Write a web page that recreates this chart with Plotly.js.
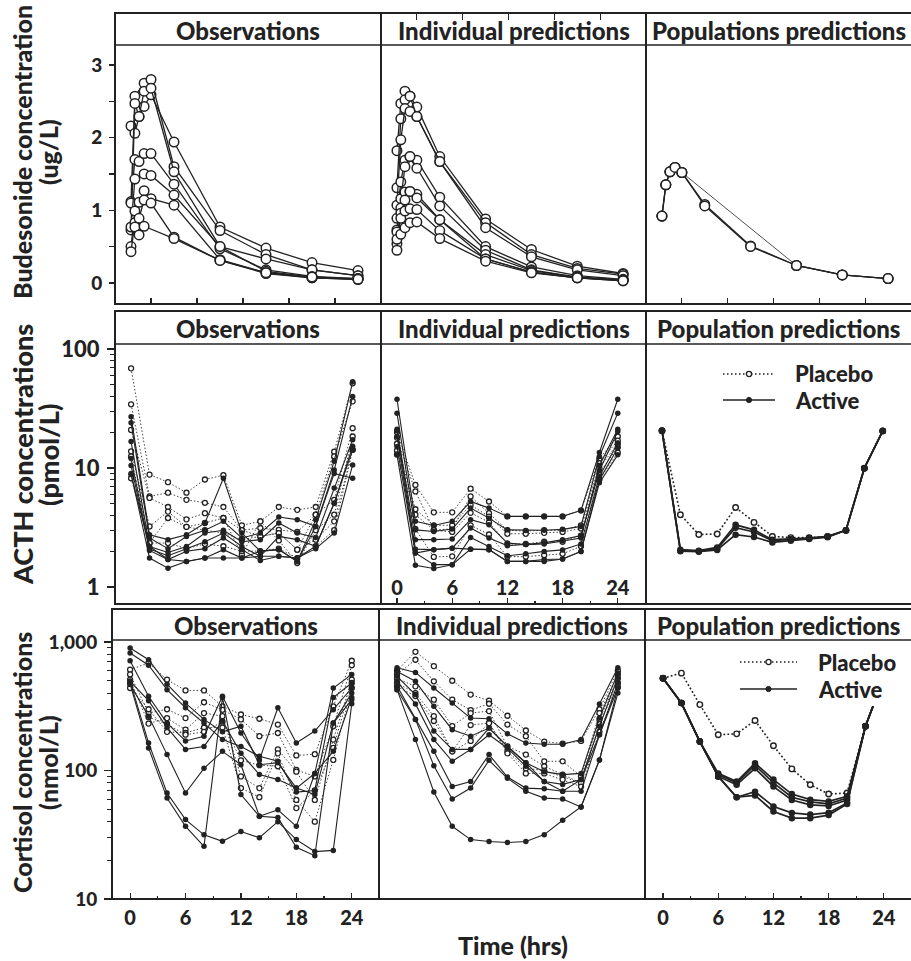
<!DOCTYPE html>
<html><head><meta charset="utf-8">
<script src="https://cdn.plot.ly/plotly-3.0.1.min.js"></script>
<style>html,body{margin:0;padding:0;background:#fff}#chart{width:911px;height:961px}</style>
</head><body><div id="chart"></div><script>
// ---------------- DATA ----------------
const stripTitles = [
  ['Observations', 'Individual predictions', 'Populations predictions'],
  ['Observations', 'Individual predictions', 'Population predictions'],
  ['Observations', 'Individual predictions', 'Population predictions']
];
const rowTitles = ['Budesonide concentration', 'ACTH concentrations', 'Cortisol concentrations'];
const rowUnits = ['(ug/L)', '(pmol/L)', '(nmol/L)'];
const xTitle = 'Time (hrs)';
const legendNames = ['Placebo', 'Active'];

// Budesonide (row 1) sampling times (unlabelled axis units)
const budTimes = [1.13, 1.3, 1.48, 1.7, 2.0, 3.0, 5.0, 7.0, 9.0, 11.0];
const budObs = [
  [2.16, 2.06, 2.29, 2.43, 2.59, 1.94, 0.77, 0.48, 0.28, 0.17],
  [1.12, 2.57, null, 2.75, 2.80, 1.60, 0.72, 0.39, 0.18, 0.10],
  [0.73, 2.47, 2.29, 2.64, 2.68, 1.53, 0.50, 0.33, 0.18, 0.10],
  [1.10, 1.70, 1.67, 1.78, 1.78, 1.36, 0.47, 0.18, 0.09, 0.06],
  [0.77, 1.43, null, 1.50, 1.48, 1.21, 0.50, 0.16, 0.08, 0.06],
  [0.50, 0.99, 1.11, 1.27, 1.16, 1.07, 0.32, 0.14, 0.07, 0.05],
  [0.43, 0.83, 0.89, 1.14, 1.10, 0.63, 0.31, 0.13, 0.07, 0.05],
  [null, 0.77, 0.66, 0.78, null, 0.61, 0.31, 0.14, 0.08, 0.05]
];
const budInd = [
  [1.82, 2.47, 2.64, 2.57, 2.42, 1.74, 0.88, 0.46, 0.23, 0.13],
  [1.31, 2.26, 2.52, 2.57, 2.29, 1.67, 0.83, 0.39, 0.20, 0.12],
  [1.07, 1.97, 2.40, 2.36, 2.29, 1.67, 0.76, 0.36, 0.18, 0.10],
  [0.89, 1.39, 1.69, 1.74, 1.69, 1.18, 0.50, 0.22, 0.10, 0.05],
  [0.73, 1.16, 1.60, 1.74, 1.58, 1.06, 0.45, 0.18, 0.08, 0.04],
  [0.54, 1.03, 1.25, 1.26, 1.22, 0.87, 0.39, 0.17, 0.08, 0.04],
  [0.45, 0.96, 1.14, 1.26, 1.17, 0.87, 0.33, 0.15, 0.07, 0.04],
  [0.70, 0.89, 0.99, 1.02, 1.01, 0.72, 0.33, 0.15, 0.07, 0.03],
  [0.60, 0.67, 0.76, 0.83, 0.84, 0.61, 0.30, 0.14, 0.07, 0.03]
];
const budPop = [
  [0.92, 1.35, 1.53, 1.59, 1.52, 1.08, 0.51, 0.24, 0.11, 0.06],
  [0.92, 1.35, 1.53, 1.59, 1.52, 1.06, 0.50, 0.24, 0.11, 0.06]
];
const budPopShort = [
  [0.92, 1.35, 1.53, 1.59, 1.52, null, null, 0.24, 0.11, 0.06]
];

// ACTH / cortisol sampling times (hrs)
const hours = [0, 2, 4, 6, 8, 10, 12, 14, 16, 18, 20, 22, 24];

const acthObsPlacebo = [
  [68.8, 8.8, 7.6, 6.2, 8.0, 8.7, 3.3, 3.56, 4.7, 4.45, 4.7, 13.7, 51.5],
  [34.3, 5.77, 6.2, 5.4, 5.1, 4.7, 3.0, 3.13, 3.02, 2.9, 4.05, 12.5, 36.3],
  [20.9, 5.6, 4.7, 3.7, 4.17, 3.8, 3.0, 2.66, 2.84, 2.06, 4.05, 5.4, 21.6],
  [13.8, 3.23, 4.3, 3.2, 3.45, 3.8, 1.87, 3.56, 2.46, 1.59, 3.0, 4.05, 18.4],
  [12.5, 2.34, 3.8, 3.2, 3.0, 2.84, 2.5, 2.66, 2.84, 2.06, 2.5, 3.56, 14.2],
  [8.2, 2.34, 2.34, 2.1, 2.3, 2.2, 2.0, 2.0, 2.1, 1.75, 2.2, 3.0, 14.2]
];
const acthObsActive = [
  [27, 2.75, 2.5, 2.75, 3.45, 8.2, 2.84, 2.0, 2.06, 1.64, 3.68, 11.4, 53],
  [24, 2.58, 2.1, 2.66, 3.0, 3.56, 2.58, 2.84, 3.87, 3.68, 3.23, 9.6, 39.8],
  [16.7, 2.19, 1.95, 2.19, 2.84, 3.0, 2.4, 2.5, 3.45, 2.84, 2.6, 6.78, 17.3],
  [12, 2.08, 1.83, 2.1, 2.4, 2.84, 2.19, 1.81, 2.66, 2.5, 2.2, 5.06, 15.2],
  [10.5, 2.03, 1.7, 2.0, 2.1, 2.58, 2.06, 1.67, 1.81, 1.75, 2.1, 2.84, 10.6],
  [9.0, 1.75, 1.44, 1.64, 1.75, 2.06, 1.75, 2.0, 2.06, 1.64, 3.23, 9.0, 8.2],
  [8.8, 2.19, 1.7, 1.64, 1.75, 1.75, 1.75, 1.81, 1.81, 1.75, 2.2, 5.06, 14.2]
];
const acthIndPlacebo = [
  [20, 7.2, 4.24, 4.24, 6.7, 5.23, 3.92, 3.92, 3.92, 3.92, 4.4, 12, 18.4],
  [18, 6.35, 3.02, 3.07, 5.77, 4.17, 3.0, 2.95, 3.0, 3.0, 3.3, 11, 17],
  [16, 4.5, 3.3, 3.3, 4.9, 3.9, 2.8, 2.8, 2.85, 2.9, 3.1, 10, 16],
  [14, 4.05, 3.0, 2.9, 4.2, 3.5, 2.3, 2.3, 2.4, 2.4, 2.7, 9, 15],
  [13, 3.07, 1.79, 1.81, 3.3, 2.76, 1.8, 1.8, 1.85, 1.9, 2.2, 8, 13.5]
];
const acthIndActive = [
  [37.8, 3.56, 3.29, 3.56, 5.23, 4.6, 3.92, 3.92, 3.92, 3.92, 4.4, 13.5, 37.8],
  [28.9, 3.02, 2.93, 3.07, 4.6, 3.79, 3.02, 2.99, 3.0, 3.05, 3.23, 12.5, 28.9],
  [21.2, 2.5, 2.5, 2.53, 3.68, 3.33, 2.34, 2.27, 2.3, 2.45, 2.58, 10.5, 21.2],
  [20.6, 2.08, 2.06, 2.12, 3.13, 2.58, 2.22, 2.27, 2.35, 2.5, 2.7, 9.5, 20.3],
  [18.4, 1.93, 1.54, 1.54, 2.61, 2.19, 1.83, 1.90, 1.99, 2.05, 2.3, 8.5, 16.2],
  [15.1, 1.93, 2.06, 2.12, 2.08, 2.06, 1.64, 1.64, 1.7, 1.72, 1.99, 7.95, 14.7],
  [12.9, 1.52, 1.43, 1.54, 2.08, 2.06, 1.64, 1.64, 1.64, 1.72, 1.99, 7.5, 12.9]
];
const acthPopPlacebo = [
  [20.6, 4.05, 2.76, 2.79, 4.66, 3.49, 2.66, 2.6, 2.6, 2.66, 2.99, 9.97, 20.5]
];
const acthPopActive = [
  [20.6, 2.06, 2.02, 2.15, 3.33, 3.02, 2.5, 2.53, 2.58, 2.66, 3.0, 9.97, 20.5],
  [20.6, 2.02, 2.0, 2.1, 3.15, 2.9, 2.45, 2.5, 2.56, 2.64, 3.0, 9.97, 20.5],
  [20.6, 2.0, 1.98, 2.05, 2.75, 2.63, 2.37, 2.45, 2.53, 2.62, 3.0, 9.97, 20.5]
];

const cortObsPlacebo = [
  [610, 687, 510, 420, 420, 316, 273, 253, 228, 131, 134, 316, 715],
  [560, 280, 300, 256, 340, 297, 250, 185, 196, 101, 90, 221, 660],
  [510, 232, 256, 208, 280, 265, 90, 73, 146, 98, 59, 174, 510],
  [439, 300, 200, 196, 216, 216, 73, 62, 136, 59, 40, 121, 439],
  [480, 260, 230, 190, 200, 240, 120, 110, 108, 51, 70, 150, 480]
];
const cortObsActive = [
  [900, 728, 470, 335, 250, 200, 221, 111, 115, 73, 95, 439, 560],
  [821, 660, 426, 308, 234, 174, 154, 129, 118, 68, 70, 370, 480],
  [715, 378, 234, 170, 185, 378, 196, 121, 308, 164, 203, 297, 439],
  [495, 350, 216, 146, 154, 243, 136, 93, 85, 73, 65, 234, 401],
  [470, 265, 133, 66.8, 104, 141, 111, 44, 49.5, 36.8, 95, 141, 370],
  [495, 164, 66.8, 41.5, 31.6, 28.1, 33.5, 30, 40, 29, 23.4, 23.9, 331],
  [470, 150, 61, 36.8, 25.7, 370, 65, 44, 43, 25.3, 21.7, 234, 356]
];
const cortIndPlacebo = [
  [600, 840, 650, 500, 390, 350, 267, 205, 168, 162, 170, 300, 600],
  [560, 728, 495, 356, 295, 331, 228, 185, 118, 118, 90, 280, 560],
  [520, 452, 356, 222, 280, 290, 154, 133, 108, 93, 80, 250, 520],
  [480, 400, 265, 141, 226, 234, 141, 104, 100, 90, 80, 230, 480],
  [450, 380, 243, 141, 170, 234, 136, 95, 95, 85, 75, 200, 450]
];
const cortIndActive = [
  [630, 580, 439, 335, 256, 253, 193, 164, 160, 160, 174, 330, 630],
  [590, 495, 316, 208, 185, 214, 154, 115, 98, 93, 95, 256, 575],
  [541, 390, 203, 146, 146, 190, 149, 108, 82, 78, 85, 221, 530],
  [495, 330, 174, 118, 146, 214, 154, 115, 82, 69, 69, 190, 480],
  [455, 250, 141, 75, 82, 133, 89, 73, 72, 69, 85, 190, 439],
  [426, 250, 109, 60, 73, 120, 87, 69, 61, 60, 52, 121, 401],
  [426, 174, 68, 36.8, 29, 28, 27.5, 28, 31.7, 41, 52, 121, 439]
];
const cortPopPlacebo = [
  [523, 573, 326, 190, 193, 245, 156, 103, 77.5, 65.6, 66.8, 221, 530]
];
const cortPopActive = [
  [523, 335, 168, 95, 82, 114, 85, 65.6, 59.3, 57.5, 63, 221, 530],
  [523, 335, 168, 93, 80, 110, 80, 62, 57, 55, 61, 221, 530],
  [523, 335, 168, 90, 77.5, 104, 75, 59, 54, 53, 59, 221, 530],
  [523, 335, 168, 90, 62, 68.5, 52.5, 46.8, 45.4, 47, 56, 221, 530],
  [523, 335, 168, 90, 62, 64, 48, 42.6, 42.6, 45, 55, 221, 530]
];

// tick values
const budTicks = [0, 1, 2, 3];
const budMinor = [0.5, 1.5, 2.5];
const budXTicks = [2, 4, 6, 8, 10];
const hourTicks = [0, 6, 12, 18, 24];
const hourMinor = [3, 9, 15, 21];
const acthTicks = [1, 10, 100];
const acthTickText = ['1', '10', '100'];
const cortTicks = [10, 100, 1000];
const cortTickText = ['10', '100', '1,000'];
const logMinor1 = [2,3,4,5,6,7,8,9,20,30,40,50,60,70,80,90];
const logMinor2 = [20,30,40,50,60,70,80,90,200,300,400,500,600,700,800,900];

// ---------------- LAYOUT GEOMETRY ----------------
const W = 911, H = 961;
const FONT = 'Lato, "Open Sans", sans-serif';
const WT = 900;
const INK = '#222';
const colX = [[115, 381, 646, 912], [115, 381, 646, 912], [112, 379, 645, 912]];
const rowY = [[13, 45, 304], [311, 344, 604], [609, 640, 899]]; // strip top, plot top, plot bottom
const xRanges = [[0.435, 12.0], [-1.74, 27.07], [-1.96, 26.95]];
const yRanges = [[-0.29, 3.275], [-0.143, 2.042], [1.0, 3.016]];
const yTickSize = [19, 22, 19];
const rowTitleSize = [25, 27, 25];
const px = v => v / W;
const py = v => 1 - v / H;

const layout = {
  width: W, height: H,
  margin: {l: 0, r: 0, t: 0, b: 0},
  paper_bgcolor: '#fff', plot_bgcolor: '#fff',
  showlegend: false,
  font: {family: FONT, color: INK, size: 19, weight: WT},
  shapes: [], annotations: []
};

const tickFont = s => ({family: FONT, size: s, color: INK, weight: WT});

for (let r = 0; r < 3; r++) {
  for (let c = 0; c < 3; c++) {
    const k = r * 3 + c + 1;
    const xa = {
      domain: [px(colX[r][c]), px(colX[r][c + 1])],
      range: xRanges[r], anchor: 'y' + k,
      showgrid: false, zeroline: false, showline: false,
      ticks: '', showticklabels: false, fixedrange: true,
      tickcolor: INK, tickwidth: 1.2, tickfont: tickFont(20)
    };
    const ya = {
      domain: [py(rowY[r][2]), py(rowY[r][1])],
      range: yRanges[r], anchor: 'x' + k,
      type: r === 0 ? 'linear' : 'log',
      showgrid: false, zeroline: false, showline: false,
      ticks: '', showticklabels: false, fixedrange: true,
      tickcolor: INK, tickwidth: 1.2, tickfont: tickFont(yTickSize[r])
    };
    if (r === 0) {
      xa.tickmode = 'array'; xa.tickvals = budXTicks; xa.ticks = 'inside'; xa.ticklen = 6;
      if (c === 1) { xa.side = 'top'; xa.anchor = 'free'; xa.position = py(rowY[r][0]); }
    } else {
      const labelled = (r === 1 && c === 1) || (r === 2 && c !== 1);
      if (labelled) {
        xa.tickmode = 'array'; xa.tickvals = hourTicks; xa.ticks = 'inside'; xa.ticklen = 6;
        xa.showticklabels = true;
        xa.minor = {tickmode: 'array', tickvals: hourMinor, ticks: 'inside', ticklen: 3, tickcolor: INK, tickwidth: 1.2};
        if (r === 1) { xa.ticklabelposition = 'inside'; }
        else { xa.ticklabelstandoff = 5; }
      }
    }
    if (c === 0) {
      ya.ticks = 'outside'; ya.showticklabels = true; ya.tickmode = 'array';
      ya.ticklabelstandoff = 3;
      if (r === 0) {
        ya.tickvals = budTicks; ya.ticklen = 5;
        ya.minor = {tickmode: 'array', tickvals: budMinor, ticks: 'outside', ticklen: 5, tickcolor: INK, tickwidth: 1.2};
      } else if (r === 1) {
        ya.tickvals = acthTicks; ya.ticktext = acthTickText; ya.ticklen = 7;
        ya.minor = {tickmode: 'array', tickvals: logMinor1, ticks: 'outside', ticklen: 4, tickcolor: INK, tickwidth: 1};
      } else {
        ya.tickvals = cortTicks; ya.ticktext = cortTickText; ya.ticklen = 7;
        ya.minor = {tickmode: 'array', tickvals: logMinor2, ticks: 'outside', ticklen: 4, tickcolor: INK, tickwidth: 1};
      }
    }
    layout['xaxis' + (k === 1 ? '' : k)] = xa;
    layout['yaxis' + (k === 1 ? '' : k)] = ya;

    // panel frame, strip
    layout.shapes.push({type: 'rect', xref: 'paper', yref: 'paper', layer: 'above',
      x0: px(colX[r][c]), x1: px(colX[r][c + 1]), y0: py(rowY[r][2]), y1: py(rowY[r][0]),
      line: {color: INK, width: 2}});
    layout.shapes.push({type: 'line', xref: 'paper', yref: 'paper', layer: 'above',
      x0: px(colX[r][c]), x1: px(colX[r][c + 1]), y0: py(rowY[r][1]), y1: py(rowY[r][1]),
      line: {color: INK, width: 1.5}});
    layout.annotations.push({xref: 'paper', yref: 'paper', showarrow: false,
      x: px((colX[r][c] + Math.min(colX[r][c + 1], 911)) / 2), y: py((rowY[r][0] + rowY[r][1]) / 2 + 1),
      xanchor: 'center', yanchor: 'middle', text: stripTitles[r][c],
      font: {family: FONT, size: 24, color: INK, weight: WT}});
  }
  const yc = [152, 455, 763][r];
  layout.annotations.push({xref: 'paper', yref: 'paper', showarrow: false,
    x: px(22), y: py(yc), xanchor: 'center', yanchor: 'middle',
    textangle: -90, text: rowTitles[r],
    font: {family: FONT, size: rowTitleSize[r], color: INK, weight: WT}});
  layout.annotations.push({xref: 'paper', yref: 'paper', showarrow: false,
    x: px(48), y: py(yc), xanchor: 'center', yanchor: 'middle',
    textangle: -90, text: rowUnits[r],
    font: {family: FONT, size: rowTitleSize[r], color: INK, weight: WT}});
}
layout.annotations.push({xref: 'paper', yref: 'paper', showarrow: false,
  x: px(513), y: py(945), xanchor: 'center', yanchor: 'middle', text: xTitle,
  font: {family: FONT, size: 25, color: INK, weight: WT}});

// legends (row 2 & row 3, population column)
function addLegend(lx0, lx1, yP, yA, tx, bg) {
  if (bg) layout.shapes.push({type: 'rect', xref: 'paper', yref: 'paper', layer: 'above',
    x0: px(bg[0]), x1: px(bg[1]), y0: py(bg[3]), y1: py(bg[2]), fillcolor: '#fff', line: {width: 0}});
  const mx = (lx0 + lx1) / 2, rr = 2.6;
  layout.shapes.push({type: 'line', xref: 'paper', yref: 'paper', layer: 'above',
    x0: px(lx0), x1: px(lx1), y0: py(yP), y1: py(yP), line: {color: INK, width: 1.3, dash: '1.5px,2.5px'}});
  layout.shapes.push({type: 'circle', xref: 'paper', yref: 'paper', layer: 'above',
    x0: px(mx - rr), x1: px(mx + rr), y0: py(yP + rr), y1: py(yP - rr), fillcolor: '#fff', line: {color: INK, width: 1.4}});
  layout.shapes.push({type: 'line', xref: 'paper', yref: 'paper', layer: 'above',
    x0: px(lx0), x1: px(lx1), y0: py(yA), y1: py(yA), line: {color: INK, width: 1.4}});
  layout.shapes.push({type: 'circle', xref: 'paper', yref: 'paper', layer: 'above',
    x0: px(mx - rr), x1: px(mx + rr), y0: py(yA + rr), y1: py(yA - rr), fillcolor: INK, line: {color: INK, width: 1}});
  [[yP, legendNames[0]], [yA, legendNames[1]]].forEach(([yy, t]) => {
    layout.annotations.push({xref: 'paper', yref: 'paper', showarrow: false,
      x: px(tx), y: py(yy), xanchor: 'left', yanchor: 'middle', text: t,
      font: {family: FONT, size: 22, color: INK, weight: WT}});
  });
}
addLegend(723, 775, 374, 400, 793, null);
addLegend(740, 797, 662, 689, 816, [735, 906, 648, 706]);

// ---------------- TRACES ----------------
const traces = [];
function addGroup(k, xs, rows, kind) {
  rows.forEach(ys => {
    const t = {x: xs, y: ys, xaxis: 'x' + (k === 1 ? '' : k), yaxis: 'y' + (k === 1 ? '' : k),
      type: 'scatter', mode: 'lines+markers', connectgaps: true, hoverinfo: 'skip', cliponaxis: true};
    if (kind === 'bud') {
      t.line = {color: INK, width: 1.3};
      t.marker = {symbol: 'circle', size: 9.5, color: '#fff', line: {color: INK, width: 1.5}};
    } else if (kind === 'budThin') {
      t.line = {color: INK, width: 0.8};
      t.marker = {symbol: 'circle', size: 9.5, color: '#fff', line: {color: INK, width: 1.5}};
    } else if (kind === 'pla') {
      t.line = {color: '#444', width: 1, dash: '1.5px,2px'};
      t.marker = {symbol: 'circle', size: 5, color: '#fff', line: {color: INK, width: 1.3}};
    } else if (kind === 'act') {
      t.line = {color: INK, width: 1.1};
      t.marker = {symbol: 'circle', size: 5.5, color: INK, line: {width: 0}};
    } else if (kind === 'actPop') {
      t.line = {color: INK, width: 1.7};
      t.marker = {symbol: 'circle', size: 6.5, color: INK, line: {width: 0}};
    } else if (kind === 'plaPop') {
      t.line = {color: INK, width: 1.6, dash: '1.8px,2.2px'};
      t.marker = {symbol: 'circle', size: 5.5, color: '#fff', line: {color: INK, width: 1.4}};
    }
    traces.push(t);
  });
}
addGroup(1, budTimes, budObs, 'bud');
addGroup(2, budTimes, budInd, 'bud');
addGroup(3, budTimes, budPopShort, 'budThin');
addGroup(3, budTimes, budPop, 'bud');
addGroup(4, hours, acthObsPlacebo, 'pla');
addGroup(4, hours, acthObsActive, 'act');
addGroup(5, hours, acthIndPlacebo, 'pla');
addGroup(5, hours, acthIndActive, 'act');
addGroup(6, hours, acthPopPlacebo, 'plaPop');
addGroup(6, hours, acthPopActive, 'actPop');
addGroup(7, hours, cortObsPlacebo, 'pla');
addGroup(7, hours, cortObsActive, 'act');
addGroup(8, hours, cortIndPlacebo, 'pla');
addGroup(8, hours, cortIndActive, 'act');
addGroup(9, hours, cortPopPlacebo, 'plaPop');
addGroup(9, hours, cortPopActive, 'actPop');

Plotly.newPlot('chart', traces, layout, {staticPlot: true, displayModeBar: false});
</script></body></html>
